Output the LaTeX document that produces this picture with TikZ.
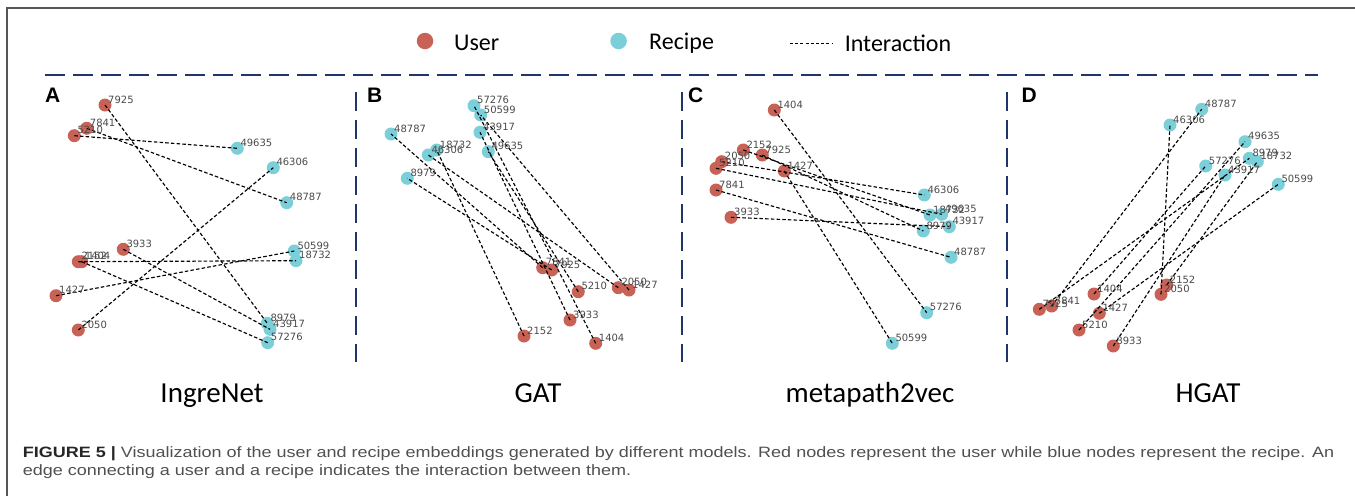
\documentclass[tikz,border=0pt]{standalone}
\usepackage{graphicx}
\usepackage{fontspec}
\setmainfont{Liberation Sans}
\newfontfamily\calib{Carlito}
\newfontfamily\dejavu{DejaVu Sans}

\definecolor{usercol}{HTML}{C86156}
\definecolor{recipecol}{HTML}{7ACFD9}
\definecolor{navy}{HTML}{22356A}
\definecolor{framecol}{HTML}{555555}
\definecolor{labcol}{HTML}{4A4A4A}
\definecolor{captext}{HTML}{505050}

\tikzset{
  user/.style={circle, fill=usercol, draw=none, minimum size=13pt, inner sep=0pt},
  recipe/.style={circle, fill=recipecol, draw=none, minimum size=13pt, inner sep=0pt},
  edge/.style={black, line width=1.15pt, dash pattern=on 3.5pt off 2.2pt},
  lab/.style={anchor=west, inner sep=0pt, text=labcol, font=\dejavu\fontsize{10}{11}\selectfont},
  sepline/.style={navy, line width=2.8pt, dash pattern=on 20pt off 8pt},
  model/.style={anchor=base, inner sep=0pt, font=\calib\fontsize{29}{32}\selectfont},
  legtext/.style={anchor=west, inner sep=0pt, font=\calib\fontsize{24}{28}\selectfont},
  letter/.style={anchor=base west, inner sep=0pt, font=\bfseries\fontsize{21}{24}\selectfont},
  captionline/.style={anchor=base west, inner sep=0pt, text=captext, font=\fontsize{15}{18}\selectfont}
}

% user / recipe positions of each panel (name/x/y, y grows downwards)
\def\Auser{7925/105/105, 7841/86.7/128.3, 5210/74.3/135.7, 3933/123.3/249.3, 2152/78.3/261.7, 1404/81.7/261.7, 1427/56/295.7, 2050/78.3/330}
\def\Arecipe{49635/237.3/148.3, 46306/273.3/167.7, 48787/286.7/202.7, 50599/294.3/251, 18732/296/260.7, 8979/267.3/323.3, 43917/270/329.3, 57276/267.7/342.7}
\def\Buser{7841/542.7/267.7, 7925/551.7/270, 5210/578.3/291.7, 2050/618.3/287.7, 1427/629/290, 3933/570/320, 2152/524/336, 1404/595.7/343.3}
\def\Brecipe{57276/474/105.7, 50599/480.7/115, 43917/480/132.3, 49635/488.3/151.7, 48787/391/134, 18732/436.7/150, 46306/428.3/155, 8979/407.3/178.3}
\def\Cuser{1404/774.3/110, 2152/743.3/150, 7925/762.3/155, 2050/721.7/161.7, 5210/716/168.3, 1427/784.3/171, 7841/716/190, 3933/731/217.3}
\def\Crecipe{46306/924.3/195, 18732/930/215, 49635/941.7/214.3, 43917/949.3/226.7, 8979/923.3/231, 48787/951/257.3, 57276/926.7/312.7, 50599/892.3/343.3}
\def\Duser{7925/1039.3/309.3, 7841/1051.7/306, 1404/1094/294, 1427/1099.3/313.3, 5210/1079/330, 3933/1113.3/346, 2152/1166.7/285, 2050/1161/294.3}
\def\Drecipe{48787/1201.7/109.3, 46306/1170/125, 49635/1245/141.7, 8979/1249.3/158.3, 18732/1257.3/161.7, 57276/1205.7/166, 43917/1225/175, 50599/1278.3/184.3}
% interactions (user/recipe), the same in every panel
\def\pairs{7925/8979, 7841/48787, 2050/46306, 2152/18732, 1404/57276, 1427/50599, 3933/43917, 5210/49635}

% circles of one panel: #1 prefix, #2 style, #3 list
\newcommand\placedots[3]{\foreach \n/\x/\y in #3 { \node[#2] (#1\n) at (\x,\y) {}; }}
% labels of one panel
\newcommand\placelabels[2]{\foreach \n/\x/\y in #2 { \node[lab] (#1\n-l) at ([shift={(3,-5.5)}]#1\n.center) {\n}; }}

\begin{document}
\begin{tikzpicture}[x=1pt,y=-1pt]
\useasboundingbox (0,0) rectangle (1355,496);

% frame
\draw[framecol, line width=1.6pt] (7,496) -- (7,8) -- (1355,8);

% legend
\node[user, minimum size=16.5pt] (legU) at (425,41) {};
\node[legtext] (legUt) at (454,43) {User};
\node[recipe, minimum size=16.5pt] (legR) at (618.6,41) {};
\node[legtext] (legRt) at (649,43) {Recipe};
\coordinate (legI1) at (790,43);
\coordinate (legI2) at (832,43);
\draw[black, line width=0.9pt, dash pattern=on 3pt off 2.2pt] (legI1) -- (legI2);
\node[legtext] (legIt) at (844.6,43) {Interaction};

% separators
\coordinate (h1) at (45,75);
\coordinate (h2) at (1318,75);
\draw[sepline] (h1) -- (h2);
\foreach \sx/\sn in {356/s1, 682/s2, 1007/s3}{
  \coordinate (\sn a) at (\sx,92);
  \coordinate (\sn b) at (\sx,362);
  \draw[sepline, dash pattern=on 19pt off 9pt] (\sn a) -- (\sn b);
}

% panel letters
\node[letter] (letA) at (45,102) {A};
\node[letter] (letB) at (367,102) {B};
\node[letter] (letC) at (688,102) {C};
\node[letter] (letD) at (1021.5,102) {D};

% nodes
\placedots{A}{user}{\Auser}   \placedots{A}{recipe}{\Arecipe}
\placedots{B}{user}{\Buser}   \placedots{B}{recipe}{\Brecipe}
\placedots{C}{user}{\Cuser}   \placedots{C}{recipe}{\Crecipe}
\placedots{D}{user}{\Duser}   \placedots{D}{recipe}{\Drecipe}

% interaction edges
\foreach \P in {A,B,C,D}{
  \foreach \u/\r in \pairs { \draw[edge] (\P\u.center) -- (\P\r.center); }
}

% node labels
\placelabels{A}{\Auser}   \placelabels{A}{\Arecipe}
\placelabels{B}{\Buser}   \placelabels{B}{\Brecipe}
\placelabels{C}{\Cuser}   \placelabels{C}{\Crecipe}
\placelabels{D}{\Duser}   \placelabels{D}{\Drecipe}

% model names
\node[model] (mA) at (212,402) {IngreNet};
\node[model] (mB) at (538,402) {GAT};
\node[model] (mC) at (870,402) {metapath2vec};
\node[model] (mD) at (1208,402) {HGAT};

% caption
\node[captionline] (cap1) at (22.7,457.3) {\scalebox{1.2}[1]{{\bfseries\color{black!85}FIGURE 5 |} Visualization of the user and recipe embeddings generated by different models. Red nodes represent the user while blue nodes represent the recipe. An}};
\node[captionline] (cap2) at (22.7,475.5) {\scalebox{1.2}[1]{edge connecting a user and a recipe indicates the interaction between them.}};
\end{tikzpicture}
\end{document}
